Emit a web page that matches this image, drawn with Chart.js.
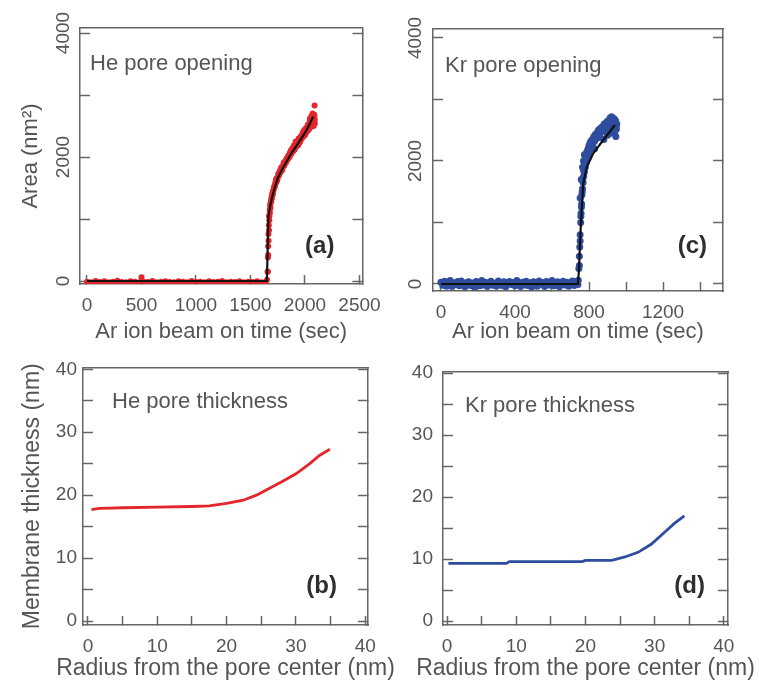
<!DOCTYPE html>
<html>
<head>
<meta charset="utf-8">
<script src="https://cdn.jsdelivr.net/npm/chart.js@4/dist/chart.umd.min.js"></script>
<style>
  body { margin: 0; background: #fff; }
  #page { position: relative; width: 759px; height: 681px; overflow: hidden; }
  #page canvas { position: absolute; }
</style>
</head>
<body>
<div id="page">
  <canvas id="heOpen" width="400" height="345" style="left:0;top:0"></canvas>
  <canvas id="krOpen" width="379" height="345" style="left:380px;top:0"></canvas>
  <canvas id="heThick" width="400" height="341" style="left:0;top:340px"></canvas>
  <canvas id="krThick" width="379" height="341" style="left:380px;top:340px"></canvas>
</div>
<script>
// ── Data: He pore opening (a) ──────────────────────────────────────

const HE_TIME = [
  0, 40, 80, 120, 160, 200, 240, 280, 320, 360, 400, 440, 480, 500, 520, 560, 600, 640, 680, 720,
  760, 800, 840, 880, 920, 960, 1000, 1040, 1080, 1120, 1160, 1200, 1240, 1280, 1320, 1360, 1400,
  1440, 1480, 1520, 1560, 1600, 1640,
  1652, 1656, 1660, 1662, 1665, 1668, 1670, 1673, 1676, 1680, 1684, 1688, 1692, 1697, 1702, 1707,
  1712, 1718, 1724, 1730, 1736, 1742, 1748, 1755, 1762, 1770, 1778, 1786, 1794, 1802, 1810, 1818,
  1826, 1834, 1842, 1850, 1858, 1866, 1874, 1882, 1890, 1898, 1906, 1914, 1922, 1930, 1938, 1946,
  1954, 1962, 1970, 1978, 1986, 1994, 2002, 2010, 2018, 2026, 2034, 2042, 2050, 2058, 2066, 2074,
  2082, 2088, 2090, 2060, 2070, 2085, 2045, 2080, 2040,
  1660, 1663, 1666, 1670, 1674, 1678, 1683, 1690, 1698, 1706, 1715, 1725, 1735, 1745, 1758, 1768,
  1780, 1792, 1805, 1816, 1830, 1845, 1860, 1872, 1888, 1900, 1915, 1928, 1942, 1958, 1972, 1984,
  1998, 2012, 2024, 2038, 2052, 2064, 2076, 2086, 2090,
];
const HE_AREA = [
  -10, -20, 0, -15, -5, -20, -10, 5, -15, -20, -5, -10, -20, 60, -10, -15, 0, -20, -10, -5,
  -15, -20, -5, -10, -20, 0, -15, -10, -20, -5, -15, -10, 0, -20, -10, -15, -5, -20, -10, -15,
  -5, -20, -10,
  20, 150, 380, 560, 760, 900, 1050, 980, 1150, 1220, 1180, 1300, 1340, 1330, 1420, 1450,
  1470, 1530, 1520, 1600, 1590, 1660, 1650, 1720, 1700, 1780, 1760, 1840, 1830, 1880, 1860, 1930,
  1910, 1980, 1960, 2030, 2000, 2080, 2050, 2130, 2090, 2160, 2120, 2200, 2170, 2240, 2190, 2290,
  2240, 2330, 2290, 2380, 2330, 2430, 2360, 2470, 2410, 2520, 2440, 2560, 2480, 2600, 2520, 2640,
  2560, 2830, 2600, 2660, 2700, 2680, 2620, 2500, 2460,
  150, 420, 650, 820, 1050, 1100, 1250, 1280, 1390, 1400, 1500, 1560, 1640, 1620, 1740, 1740,
  1820, 1790, 1910, 1890, 1960, 2010, 2060, 2110, 2150, 2190, 2250, 2210, 2300, 2310, 2350, 2410,
  2440, 2400, 2480, 2530, 2550, 2610, 2570, 2650, 2540,
];
const HE_FIT_TIME = [0, 1650, 1656, 1664, 1680, 1700, 1720, 1755, 1800, 1875, 1940, 1997, 2040, 2075];
const HE_FIT_AREA = [0, 0, 400, 1030, 1200, 1360, 1490, 1680, 1830, 2060, 2230, 2380, 2520, 2650];

// ── Data: Kr pore opening (c) ──────────────────────────────────────

const KR_TIME = [
  0, 10, 20, 30, 40, 50, 60, 70, 80, 90, 100, 110, 120, 130, 140, 150, 160, 170, 180, 190,
  200, 210, 220, 230, 240, 250, 260, 270, 280, 290, 300, 310, 320, 330, 340, 350, 360, 370, 380, 390,
  400, 410, 420, 430, 440, 450, 460, 470, 480, 490, 500, 510, 520, 530, 540, 550, 560, 570, 580, 590,
  600, 610, 620, 630, 640, 650, 660, 670, 680, 690, 700, 710, 720, 730, 740,
  742, 745, 748, 750, 752, 755, 757, 760, 762, 765, 768, 771, 775, 780, 785, 790, 796, 802, 808,
  815, 822, 830, 838, 846, 854, 862, 870, 878, 886, 894, 902, 910, 918, 926, 934, 942, 948,
  752, 758, 765, 770, 775, 880, 900, 920, 940, 945, 860, 830,
  748, 752, 756, 759, 763, 766, 770, 776, 782, 788, 795, 800, 806, 812, 818, 826, 834, 842, 850,
  858, 866, 874, 882, 890, 898, 906, 914, 922, 930, 938, 944, 950, 935, 925, 915, 905, 948,
];
const KR_AREA = [
  30, -20, 45, -35, 10, 55, -40, 20, -10, 40, -30, 50, 0, -45, 25, 35, -25, 15, -50, 40,
  5, -30, 55, -15, 30, -40, 20, 45, -20, 10, -35, 50, 0, -25, 35, -45, 15, 40, -10, 25,
  -30, 55, 5, -40, 30, -15, 45, -25, 20, -50, 35, 10, -35, 50, -5, 25, -40, 40, 15, -20,
  55, -30, 0, 35, -45, 20, 45, -15, 30, -35, 10, 50, -25, 40, -10,
  60, 250, 450, 600, 800, 1000, 1150, 1300, 1450, 1550, 1650, 1750, 1820, 1900, 1980, 2050, 2100, 2160, 2200,
  2250, 2300, 2320, 2360, 2400, 2420, 2460, 2480, 2500, 2520, 2560, 2580, 2600, 2640, 2680, 2660, 2620, 2580,
  1400, 1700, 1900, 2000, 2100, 2350, 2420, 2450, 2480, 2400, 2380, 2200,
  300, 700, 1100, 1250, 1500, 1700, 1850, 1950, 2050, 2150, 2200, 2250, 2300, 2330, 2350, 2400, 2430, 2450, 2500,
  2520, 2540, 2560, 2600, 2610, 2640, 2660, 2700, 2720, 2700, 2680, 2650, 2600, 2560, 2520, 2480, 2460, 2520,
];
const KR_FIT_TIME = [0, 740, 745, 755, 769, 788, 823, 877, 940];
const KR_FIT_AREA = [0, 0, 200, 900, 1640, 1900, 2125, 2341, 2585];

// ── Data: membrane thickness (b), (d) ──────────────────────────────

const HE_RADIUS = [0.5, 1.7, 5, 10, 15, 17.5, 20, 22.4, 24.3, 26.2, 28.1, 30, 32, 33.4, 34.9];
const HE_THICK = [17.7, 17.9, 18.0, 18.1, 18.2, 18.3, 18.7, 19.2, 20.0, 21.1, 22.2, 23.4, 25.0, 26.3, 27.3];
const KR_RADIUS = [0.2, 4, 8.6, 9, 14, 19.5, 20, 23.8, 25.7, 27.6, 29.5, 31.4, 32.9, 34.3];
const KR_THICK = [9.3, 9.3, 9.3, 9.6, 9.6, 9.6, 9.8, 9.8, 10.35, 11.1, 12.4, 14.3, 15.8, 17.0];

// ── Ticks (all marks) and which of them carry a label ──────────────

const HE_TIME_TICKS = [0, 500, 1000, 1500, 2000, 2500];
const HE_TIME_LABELS = [0, 500, 1000, 1500, 2000, 2500];
const KR_TIME_TICKS = [0, 200, 400, 600, 800, 1000, 1200, 1400];
const KR_TIME_LABELS = [0, 400, 800, 1200];
const AREA_TICKS = [0, 1000, 2000, 3000, 4000];
const AREA_LABELS = [0, 2000, 4000];
const RADIUS_TICKS = [0, 5, 10, 15, 20, 25, 30, 35, 40];
const RADIUS_LABELS = [0, 10, 20, 30, 40];
const THICK_TICKS = [0, 5, 10, 15, 20, 25, 30, 35, 40];
const THICK_LABELS = [0, 10, 20, 30, 40];

// ── Styles ─────────────────────────────────────────────────────────

const FONT = "'Liberation Sans', Arial, sans-serif";
const INK = '#555';
const FRAME = '#666';
const RED = '#e3262b';
const BLUE = '#2f4d9e';

const pts = (xs, ys) => xs.map((x, i) => ({ x, y: ys[i] }));
const only = labels => v => (labels.includes(v) ? String(v) : '');
const fixTicks = values => s => { s.ticks = values.map(value => ({ value })); };

// panel caption, (a)/(b)... tag and wide x titles, placed relative to the plot frame
const panelText = {
  id: 'panelText',
  afterDraw(chart, args, o) {
    const { ctx, chartArea: a } = chart;
    ctx.save();
    ctx.textBaseline = 'middle';
    ctx.fillStyle = INK;
    ctx.font = `22px ${FONT}`;
    ctx.fillText(o.label, a.left + o.lx, a.top + o.ly);
    if (o.xTitle) {
      ctx.textAlign = 'center';
      ctx.font = `23px ${FONT}`;
      ctx.fillText(o.xTitle, (a.left + a.right) / 2, chart.height - o.xTitleDy);
    }
    ctx.fillStyle = '#2e2e2e';
    ctx.font = `bold 24px ${FONT}`;
    ctx.textAlign = 'right';
    ctx.fillText(o.tag, a.right - o.tx, a.bottom - o.ty);
    ctx.restore();
  },
};

function scatterSet(xs, ys, color, r) {
  return { data: pts(xs, ys), backgroundColor: color, borderWidth: 0, pointRadius: r, order: 2 };
}

function lineSet(xs, ys, color, w) {
  return { data: pts(xs, ys), showLine: true, borderColor: color, borderWidth: w, pointRadius: 0, order: 1 };
}

function panel(id, p) {
  const tickFont = { family: FONT, size: p.tickSize };
  const titleFont = { family: FONT, size: p.titleSize };
  return new Chart(document.getElementById(id), {
    type: 'scatter',
    data: { datasets: p.datasets },
    options: {
      responsive: false,
      animation: false,
      events: [],
      layout: { padding: p.pad },
      plugins: { legend: { display: false }, tooltip: { enabled: false }, panelText: p.text },
      scales: {
        x: {
          type: 'linear', position: 'bottom', min: p.x.min, max: p.x.max,
          afterBuildTicks: fixTicks(p.x.ticks),
          ticks: {
            autoSkip: false, maxRotation: 0,
            padding: p.x.pad, color: INK, font: tickFont, callback: only(p.x.labels),
          },
          grid: { drawOnChartArea: false, tickLength: -9, tickWidth: 1.5, tickColor: FRAME },
          border: { color: FRAME, width: 1.5 },
          title: { display: !!p.x.title, text: p.x.title, color: INK, font: titleFont, padding: { top: 0, bottom: 0 } },
          afterFit: s => { s.height = p.x.size; },
        },
        y: {
          type: 'linear', position: 'left', min: p.y.min, max: p.y.max,
          afterBuildTicks: fixTicks(p.y.ticks),
          ticks: {
            autoSkip: false, minRotation: p.y.rot, maxRotation: p.y.rot,
            crossAlign: p.y.rot ? 'center' : 'near',
            padding: p.y.pad, color: INK, font: tickFont, callback: only(p.y.labels),
          },
          grid: { drawOnChartArea: false, tickLength: -10, tickWidth: 1.5, tickColor: FRAME },
          border: { color: FRAME, width: 1.5 },
          title: { display: !!p.y.title, text: p.y.title, color: INK, font: titleFont, padding: { top: p.y.titlePad, bottom: 0 } },
          afterFit: s => { s.width = p.y.size; },
        },
        x2: {
          type: 'linear', position: 'top', min: p.x.min, max: p.x.max,
          ticks: { display: false },
          grid: { display: false },
          border: { color: FRAME, width: 1.5 },
          afterFit: s => { s.height = 0; },
        },
        y2: {
          type: 'linear', position: 'right', min: p.y.min, max: p.y.max,
          afterBuildTicks: fixTicks(p.y.ticks),
          ticks: { display: false },
          grid: { drawOnChartArea: false, tickLength: -10, tickWidth: 1.5, tickColor: FRAME },
          border: { color: FRAME, width: 1.5 },
          afterFit: s => { s.width = 0; },
        },
      },
    },
    plugins: [panelText],
  });
}

// ── Panels ─────────────────────────────────────────────────────────

panel('heOpen', {
  pad: { left: 0, top: 28, right: 35, bottom: 0 },
  tickSize: 19, titleSize: 22,
  datasets: [scatterSet(HE_TIME, HE_AREA, RED, 3), lineSet(HE_FIT_TIME, HE_FIT_AREA, '#111', 2.2)],
  x: { min: -64, max: 2527, ticks: HE_TIME_TICKS, labels: HE_TIME_LABELS, pad: 19, size: 61, title: 'Ar ion beam on time (sec)' },
  y: { min: -48, max: 4081, ticks: AREA_TICKS, labels: AREA_LABELS, rot: 90, pad: 5, size: 80, title: 'Area (nm²)', titlePad: 18 },
  text: { label: 'He pore opening', lx: 10, ly: 36, tag: '(a)', tx: 28, ty: 38 },
});

panel('krOpen', {
  pad: { left: 0, top: 29, right: 36, bottom: 0 },
  tickSize: 19, titleSize: 22,
  datasets: [scatterSet(KR_TIME, KR_AREA, BLUE, 3.5), lineSet(KR_FIT_TIME, KR_FIT_AREA, '#111', 2.2)],
  x: { min: -43, max: 1524, ticks: KR_TIME_TICKS, labels: KR_TIME_LABELS, pad: 19, size: 54, title: 'Ar ion beam on time (sec)' },
  y: { min: -114, max: 4146, ticks: AREA_TICKS, labels: AREA_LABELS, rot: 90, pad: 6, size: 53 },
  text: { label: 'Kr pore opening', lx: 12, ly: 37, tag: '(c)', tx: 16, ty: 45 },
});

panel('heThick', {
  pad: { left: 0, top: 24, right: 32, bottom: 0 },
  tickSize: 19, titleSize: 23,
  datasets: [lineSet(HE_RADIUS, HE_THICK, RED, 2.8)],
  x: { min: -0.72, max: 40.4, ticks: RADIUS_TICKS, labels: RADIUS_LABELS, pad: 19, size: 56 },
  y: { min: -0.63, max: 40.3, ticks: THICK_TICKS, labels: THICK_LABELS, rot: 0, pad: 16, size: 83, title: 'Membrane thickness (nm)', titlePad: 19 },
  text: { label: 'He pore thickness', lx: 29, ly: 35, tag: '(b)', tx: 31, ty: 39, xTitle: 'Radius from the pore center (nm)', xTitleDy: 12 },
});

panel('krThick', {
  pad: { left: 0, top: 24, right: 31, bottom: 0 },
  tickSize: 19, titleSize: 23,
  datasets: [lineSet(KR_RADIUS, KR_THICK, BLUE, 2.8)],
  x: { min: -0.58, max: 40.6, ticks: RADIUS_TICKS, labels: RADIUS_LABELS, pad: 19, size: 56 },
  y: { min: -0.63, max: 40.3, ticks: THICK_TICKS, labels: THICK_LABELS, rot: 0, pad: 20, size: 63 },
  text: { label: 'Kr pore thickness', lx: 22, ly: 35, tag: '(d)', tx: 23, ty: 39, xTitle: 'Radius from the pore center (nm)', xTitleDy: 12 },
});
</script>
</body>
</html>
